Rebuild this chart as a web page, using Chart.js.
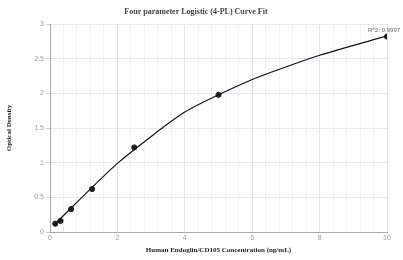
<!DOCTYPE html>
<html>
<head>
<meta charset="utf-8">
<script src="https://cdn.jsdelivr.net/npm/chart.js@4"></script>
<style>
  body { margin: 0; background: #fff; }
  canvas { display: block; }
</style>
</head>
<body>
<canvas id="fit" width="403" height="260"></canvas>
<script>
// standards (ng/mL) and measured OD
const concentrations = [0.156, 0.3125, 0.625, 1.25, 2.5, 5, 10];
const odValues = [0.12, 0.16, 0.33, 0.62, 1.22, 1.98, 2.82];
// fitted curve
const curveX = [0.156, 2, 4, 6, 8, 10];
const curveY = [0.12, 0.99, 1.73, 2.2, 2.55, 2.83];
const rSquared = "R^2: 0.9997";
const xTicks = [0, 2, 4, 6, 8, 10];

const serif = "'Liberation Serif', 'Times New Roman', serif";
const sans = "'Liberation Sans', Arial, sans-serif";

const rLabel = {
  id: "rLabel",
  afterDatasetsDraw(chart) {
    const ctx = chart.ctx;
    const x = chart.scales.x.getPixelForValue(concentrations[concentrations.length - 1]);
    const y = chart.scales.y.getPixelForValue(odValues[odValues.length - 1]);
    ctx.save();
    ctx.font = "6px " + sans;
    ctx.fillStyle = "#666";
    ctx.textAlign = "center";
    ctx.textBaseline = "bottom";
    ctx.fillText(rSquared, x - 3, y - 3);
    ctx.restore();
  }
};

new Chart(document.getElementById("fit"), {
  type: "scatter",
  data: {
    datasets: [
      {
        data: curveX.map((x, i) => ({ x: x, y: curveY[i] })),
        showLine: true,
        borderColor: "#111",
        borderWidth: 1.2,
        pointRadius: 0,
        tension: 0.2
      },
      {
        data: concentrations.map((x, i) => ({ x: x, y: odValues[i] })),
        showLine: false,
        backgroundColor: "#222",
        borderColor: "#222",
        pointRadius: 2.6
      }
    ]
  },
  options: {
    responsive: false,
    animation: false,
    layout: { padding: { left: 5, right: 16, top: 0, bottom: 6 } },
    plugins: {
      legend: { display: false },
      tooltip: { enabled: false },
      title: {
        display: true,
        text: "Four parameter Logistic (4-PL) Curve Fit",
        color: "#444",
        font: { family: serif, size: 8, weight: "bold" },
        padding: { top: 7, bottom: 7.5 }
      }
    },
    scales: {
      x: {
        type: "linear",
        min: 0,
        max: 10,
        afterFit: s => { s.height = 22; },
        afterBuildTicks: s => {
          const t = [];
          for (let i = 0; i <= 25; i++) t.push({ value: Math.round(i * 0.4 * 10) / 10 });
          s.ticks = t;
        },
        ticks: {
          autoSkip: false,
          maxRotation: 0,
          padding: 2,
          color: "#999",
          font: { family: sans, size: 7 },
          callback: v => (xTicks.includes(v) ? v : "")
        },
        grid: {
          color: c => (c.tick && xTicks.includes(c.tick.value) ? "#e2e5ee" : "#f0f1f6"),
          lineWidth: 1,
          drawTicks: false
        },
        border: { color: "#aaa" },
        title: {
          display: true,
          text: "Human Endoglin/CD105 Concentration (ng/mL)",
          color: "#222",
          font: { family: serif, size: 7, weight: "bold" },
          padding: { top: 2, bottom: 0 }
        }
      },
      y: {
        min: 0,
        max: 3,
        afterFit: s => { s.width = 45; },
        ticks: {
          stepSize: 0.5,
          padding: 2,
          color: "#999",
          font: { family: sans, size: 7 },
          callback: v => String(v)
        },
        grid: {
          color: "#e6e9f2",
          tickLength: 4,
          tickColor: "#ccc"
        },
        border: { color: "#aaa" },
        title: {
          display: true,
          text: "Optical Density",
          color: "#222",
          font: { family: serif, size: 7, weight: "bold" },
          padding: { top: 0, bottom: 8 }
        }
      }
    }
  },
  plugins: [rLabel]
});
</script>
</body>
</html>
